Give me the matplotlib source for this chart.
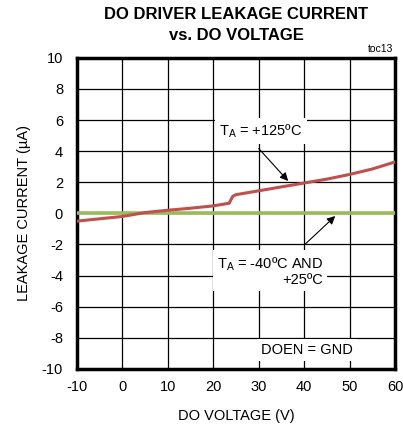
import matplotlib
matplotlib.use("Agg")
import matplotlib.pyplot as plt

plt.rcParams['font.family'] = ['Liberation Sans Narrow', 'Liberation Sans', 'DejaVu Sans']
plt.rcParams['mathtext.fontset'] = 'custom'
plt.rcParams['mathtext.rm'] = 'Liberation Sans'
plt.rcParams['mathtext.it'] = 'Liberation Sans:italic'
plt.rcParams['axes.unicode_minus'] = False

# Data
v_hot = [-10, -5, 0, 5, 10, 15, 20, 23.5, 24.3, 25, 30, 35, 40, 45, 50, 55, 60]
i_hot = [-0.5, -0.35, -0.2, 0.05, 0.2, 0.33, 0.48, 0.65, 1.1, 1.2, 1.45, 1.7, 1.95, 2.2, 2.5, 2.85, 3.3]
v_cold = [-10, 60]
i_cold = [0.0, 0.0]

x_ticks = [-10, 0, 10, 20, 30, 40, 50, 60]
y_ticks = [-10, -8, -6, -4, -2, 0, 2, 4, 6, 8, 10]

fig = plt.figure(figsize=(4.03, 4.25), dpi=100)
ax = fig.add_axes([0.191, 0.132, 0.789, 0.732])

ax.plot(v_cold, i_cold, color='#9bbb59', lw=2.6, zorder=3, solid_capstyle='butt')
ax.plot(v_hot, i_hot, color='#c0504d', lw=2.2, zorder=4)

ax.set_xlim(-10, 60)
ax.set_ylim(-10, 10)
ax.set_xticks(x_ticks)
ax.set_yticks(y_ticks)
ax.grid(True, color='black', lw=0.9)
ax.tick_params(length=0, labelsize=10.5)
ax.tick_params(axis='x', pad=8)
ax.tick_params(axis='y', pad=10)
for s in ax.spines.values():
    s.set_linewidth(2.5)

ax.set_xlabel('DO VOLTAGE (V)', fontsize=10.5, labelpad=11)
ax.set_ylabel('LEAKAGE CURRENT (µA)', fontsize=10.5, labelpad=8)

fig.text(0.586, 0.941, 'DO DRIVER LEAKAGE CURRENT\nvs. DO VOLTAGE', ha='center', va='center',
         fontsize=12, fontweight='bold', linespacing=1.45)
fig.text(0.975, 0.872, 'toc13', ha='right', va='bottom', fontsize=7.5)

bb = dict(facecolor='white', edgecolor='none', pad=3)
ax.text(30.5, 5.3, r'$\mathregular{T_A}$ = +125ºC', ha='center', va='center', fontsize=10.5, bbox=bb, zorder=5)
ax.annotate('', xy=(36.9, 1.95), xytext=(29.6, 4.3),
            arrowprops=dict(arrowstyle='-|>', color='black', lw=0.8, mutation_scale=12), zorder=5)
ax.text(32.5, -3.7, r'$\mathregular{T_A}$ = -40ºC AND' + '\n+25ºC', ha='center', va='center',
        multialignment='right', fontsize=10.5, bbox=bb, zorder=5, linespacing=1.0)
ax.annotate('', xy=(47.3, -0.05), xytext=(39.8, -2.1),
            arrowprops=dict(arrowstyle='-|>', color='black', lw=0.8, mutation_scale=12), zorder=5)
ax.text(40.7, -8.8, 'DOEN = GND', ha='center', va='center', fontsize=10.5, bbox=bb, zorder=5)

fig.savefig('out.png', dpi=100)
